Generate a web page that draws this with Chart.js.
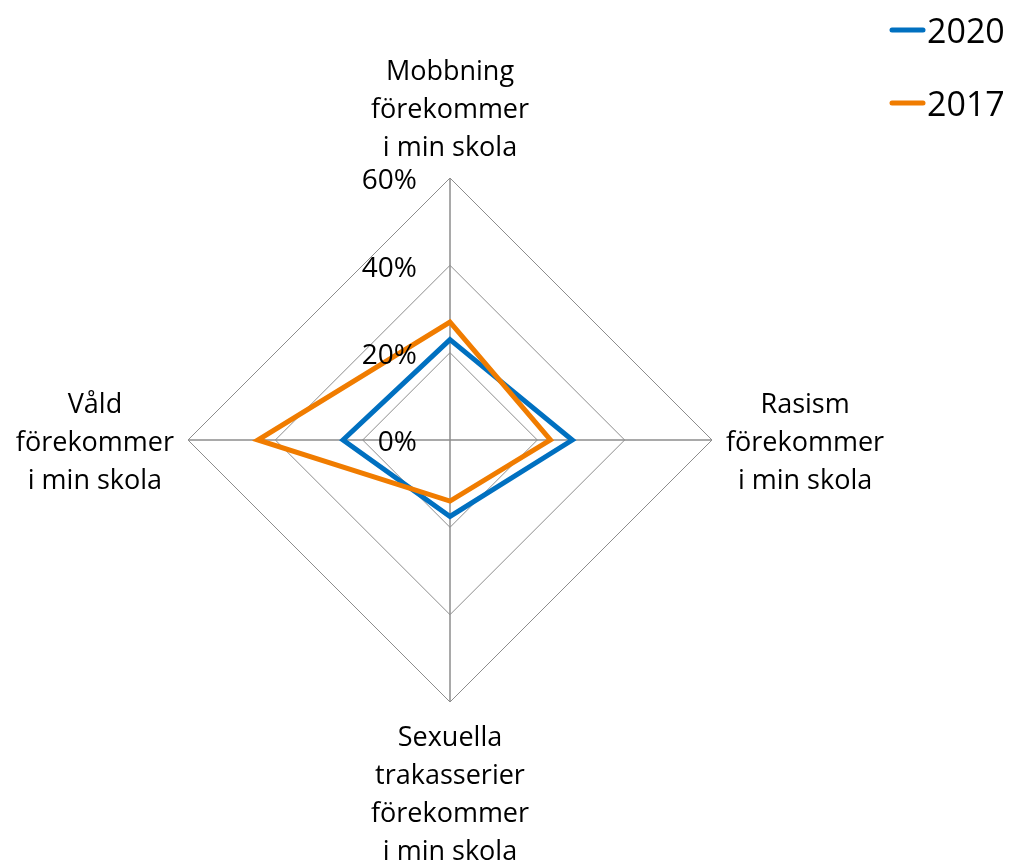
<!DOCTYPE html>
<html>
<head>
<meta charset="utf-8">
<script src="https://cdn.jsdelivr.net/npm/chart.js@4/dist/chart.umd.min.js"></script>
<style>
  body { margin: 0; background: #fff; }
  #wrap { width: 1012px; height: 866px; position: relative; }
</style>
</head>
<body>
<div id="wrap"><canvas id="radar"></canvas></div>
<script>
const categories = [
  ["Mobbning", "förekommer", "i min skola"],
  ["Rasism", "förekommer", "i min skola"],
  ["Sexuella", "trakasserier", "förekommer", "i min skola"],
  ["Våld", "förekommer", "i min skola"]
];
const seriesNames = ["2020", "2017"];
const values2020 = [23, 28, 17.5, 24.5];
const values2017 = [27, 23, 14, 44];
const tickValues = [0, 20, 40, 60];
const tickLabels = ["0%", "20%", "40%", "60%"];

const FONT = '"Open Sans", "DejaVu Sans", sans-serif';
const labelSize = 27;
const tickSize = 28;
const lineH = 38;
const yShift = 3.5; // Open Sans sits a bit high with "middle" baseline

// ticks, point labels and legend are drawn by hand so they sit like the original
const overlay = {
  id: "overlay",
  afterDatasetsDraw(chart) {
    const ctx = chart.ctx;
    const r = chart.scales.r;
    ctx.save();
    ctx.fillStyle = "#000";
    ctx.textBaseline = "middle";

    ctx.font = `${tickSize}px ${FONT}`;
    ctx.textAlign = "right";
    tickValues.forEach((v, i) => {
      const p = r.getPointPositionForValue(0, v);
      ctx.fillText(tickLabels[i], r.xCenter - 33, p.y + yShift);
    });

    ctx.font = `${labelSize}px ${FONT}`;
    ctx.textAlign = "center";
    categories.forEach((lines, i) => {
      const p = r.getPointPosition(i, r.drawingArea + 14);
      const a = r.getIndexAngle(i) - Math.PI / 2;
      const c = Math.cos(a), s = Math.sin(a);
      const w = Math.max(...lines.map(t => ctx.measureText(t).width));
      const h = lines.length * lineH;
      let cx, top;
      if (Math.abs(c) < 0.01) {
        cx = p.x;
        top = s < 0 ? p.y - h : p.y;
      } else {
        cx = c > 0 ? p.x + w / 2 : p.x - w / 2;
        top = p.y - h / 2;
      }
      lines.forEach((t, k) => ctx.fillText(t, cx, top + lineH * (k + 0.5) + yShift));
    });

    // legend
    ctx.font = `34px ${FONT}`;
    ctx.textAlign = "left";
    chart.data.datasets.forEach((ds, i) => {
      const y = 30 + i * 73;
      ctx.strokeStyle = ds.borderColor;
      ctx.lineWidth = 5;
      ctx.lineCap = "round";
      ctx.beginPath();
      ctx.moveTo(892, y);
      ctx.lineTo(923, y);
      ctx.stroke();
      ctx.fillText(ds.label, 927, y + yShift);
    });
    ctx.restore();
  }
};

new Chart(document.getElementById("radar"), {
  type: "radar",
  data: {
    labels: categories,
    datasets: [
      {
        label: seriesNames[0],
        data: values2020,
        borderColor: "#0070C0",
        borderWidth: 5,
        fill: false,
        pointRadius: 0,
        order: 1
      },
      {
        label: seriesNames[1],
        data: values2017,
        borderColor: "#F07C00",
        borderWidth: 5,
        fill: false,
        pointRadius: 0,
        order: 0
      }
    ]
  },
  options: {
    responsive: true,
    maintainAspectRatio: false,
    animation: false,
    layout: { padding: { left: 188, right: 300, top: 178, bottom: 164 } },
    plugins: { legend: { display: false }, tooltip: { enabled: false } },
    scales: {
      r: {
        min: 0,
        max: 60,
        ticks: { stepSize: 20, display: false },
        grid: { color: "#8c8c8c", lineWidth: 1 },
        angleLines: { color: "#8c8c8c", lineWidth: 1.5 },
        pointLabels: { display: false }
      }
    }
  },
  plugins: [overlay]
});
</script>
</body>
</html>
